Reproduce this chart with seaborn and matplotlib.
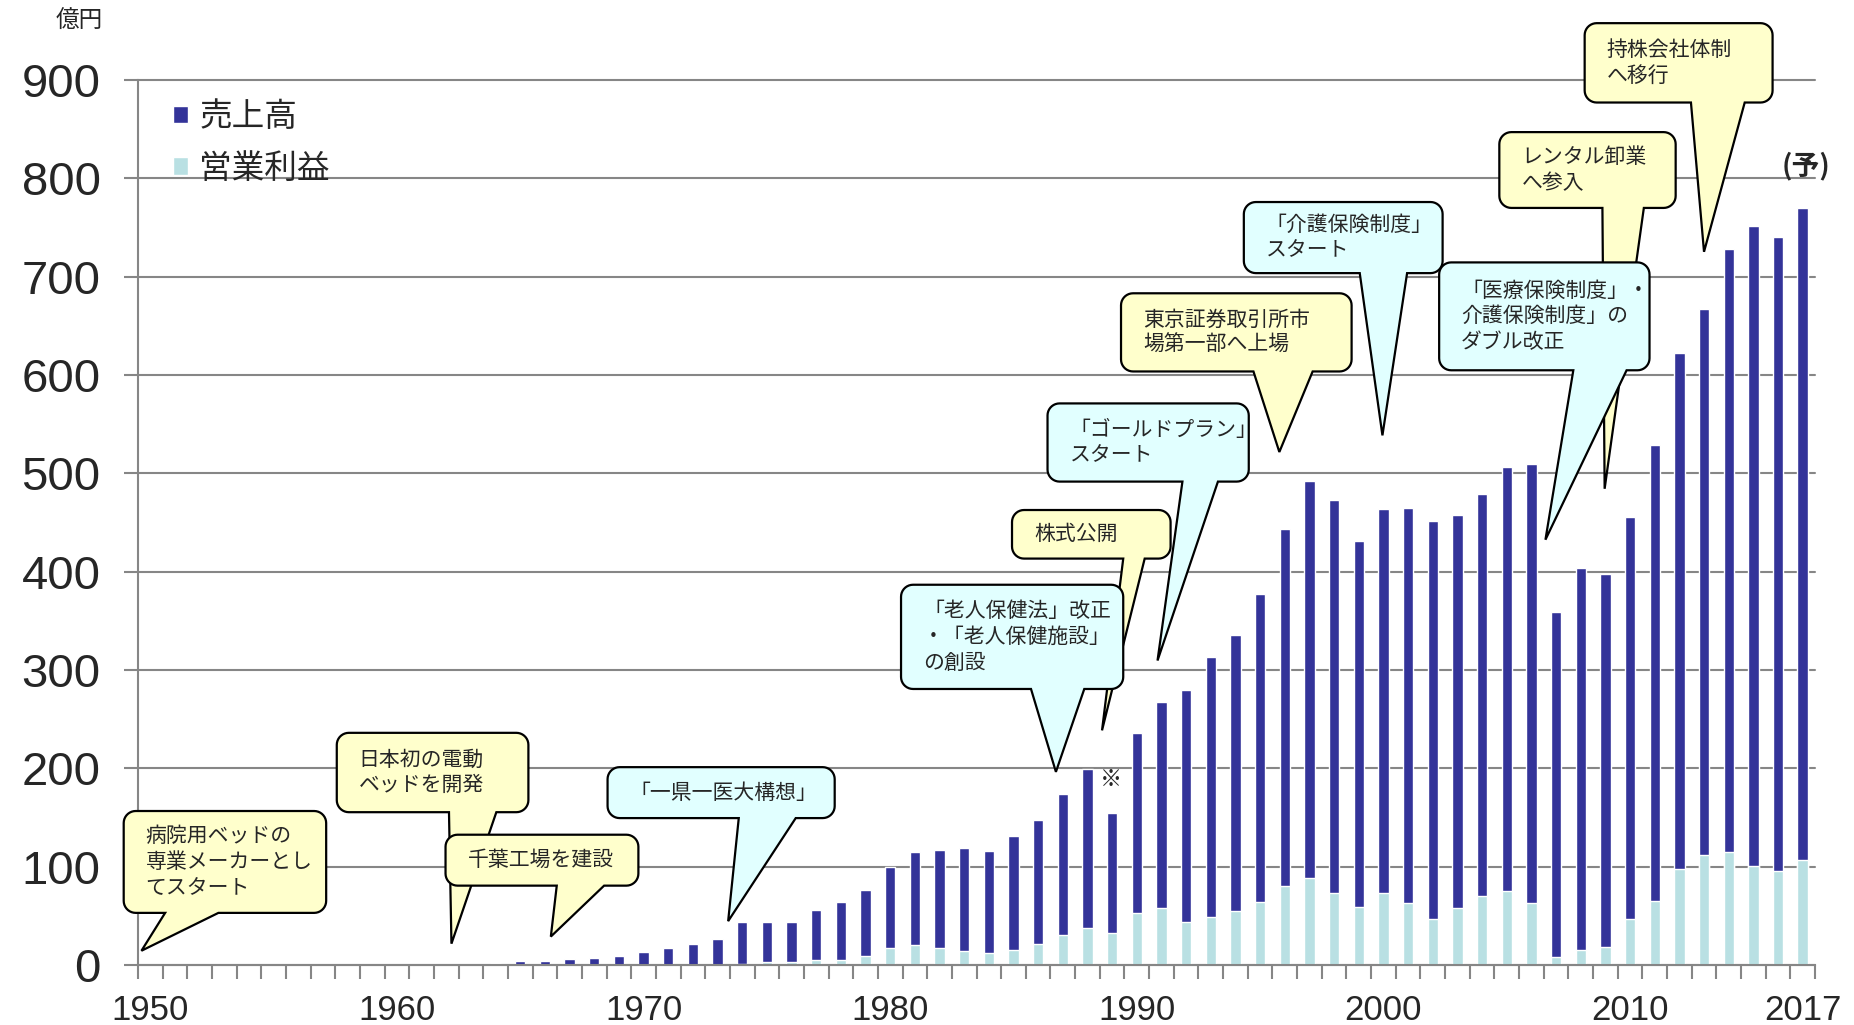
import numpy as np
import pandas as pd
import matplotlib
matplotlib.use('Agg')
import matplotlib.pyplot as plt
import seaborn as sns
from matplotlib.patches import Polygon

sns.set_style('white')
plt.rcParams['font.family'] = ['Liberation Sans', 'Noto Sans CJK JP']
JP = ['Noto Sans CJK JP', 'DejaVu Sans']

# data (億円)
years_all = [str(y) for y in range(1950, 2018)]
years = [str(y) for y in range(1962, 2018)]
sales = [1.4, 1.5, 2, 3.7, 4.4, 6, 7.5, 9.2, 13.6, 17, 21, 26.5,
         44, 44, 44, 56, 64, 76, 100, 115, 117, 119, 116, 131, 147, 174, 199, 155,
         236, 267, 280, 313, 336, 377, 443, 492, 473, 431, 464, 465, 452, 458, 479,
         506, 510, 359, 404, 398, 456, 529, 622, 667, 728, 752, 740, 770]
profit = [0, 0, 0, 0, 0, 0, 0, 0, 0, 0, 0, 0.5,
          1, 3, 3, 5, 5.5, 9.5, 17.5, 20.5, 17, 14, 12.5, 15, 21.5, 31, 37.5, 33,
          52.5, 58, 44, 49, 55, 64, 80.5, 88, 73, 59, 73, 62.7, 47.2, 58.2, 70.4,
          75.7, 62.7, 8, 15.5, 18, 46.8, 64.7, 97.7, 112, 114.8, 100.2, 95.3, 106.3]
label_years = ['1950', '1960', '1970', '1980', '1990', '2000', '2010', '2017']

df = pd.DataFrame({'year': years, 'sales': sales, 'profit': profit})

GRAY = '#868686'
YEL = '#FFFFCC'
CYA = '#E1FFFF'

fig = plt.figure(figsize=(18.54, 10.25), dpi=100)
ax = fig.add_axes([138 / 1854, 60 / 1025, 1677 / 1854, 885 / 1025])

sns.barplot(data=df, x='year', y='sales', order=years_all, color='#333399',
            saturation=1, width=0.42, errorbar=None, label='売上高', ax=ax)
sns.barplot(data=df, x='year', y='profit', order=years_all, color='#B9E0E3',
            saturation=1, width=0.42, errorbar=None, label='営業利益', ax=ax)

ax.set_xlim(-0.5, len(years_all) - 0.5)
ax.set_ylim(0, 900)
ax.set_xlabel('')
ax.set_ylabel('')
ax.set_axisbelow(True)

# y axis
ax.set_yticks(range(0, 1000, 100))
ax.yaxis.grid(True, color=GRAY, linewidth=1.5)
for gl in ax.get_ygridlines():
    gl.set_clip_on(False)
ax.tick_params(axis='y', length=10, width=1.5, color=GRAY, labelsize=34, pad=17, left=True)

# x axis: ticks between categories, labels at some years
ax.set_xticks([years_all.index(y) for y in label_years])
ax.set_xticklabels(label_years, family=['Liberation Sans Narrow', 'Liberation Sans'], fontsize=25)
ax.set_xticks(np.arange(-0.5, len(years_all), 1), minor=True)
ax.tick_params(axis='x', which='major', length=0, pad=21)
ax.tick_params(axis='x', which='minor', length=10, width=1.5, color=GRAY, bottom=True)

for s in ['top', 'right']:
    ax.spines[s].set_visible(False)
for s in ['left', 'bottom']:
    ax.spines[s].set_color(GRAY)
    ax.spines[s].set_linewidth(1.5)

ax.legend(prop={'family': JP, 'size': 23.5}, frameon=False, loc='upper left',
          bbox_to_anchor=(0.021, 0.976), handlelength=0.45, handleheight=0.45,
          handletextpad=0.35, labelspacing=0.6, borderpad=0, borderaxespad=0)

fig.text(79 / 1854, 1 - 21 / 1025, '億円', ha='center', va='center', fontsize=17, family=JP)

# speech bubbles
fig.canvas.draw()
p0 = ax.transData.transform((0, 0))
p1 = ax.transData.transform((1, 1))
sx, sy = p1[0] - p0[0], p1[1] - p0[1]


def bubble(text, x0, x1, y0, y1, bx0, bx1, tx, ty, fc, z):
    rx, ry = 12 / sx, 12 / sy

    def arc(cx, cy, a0, a1):
        t = np.linspace(a0, a1, 10)
        return list(zip(cx + rx * np.cos(t), cy + ry * np.sin(t)))

    pts = arc(x0 + rx, y0 + ry, np.pi, 1.5 * np.pi)
    pts += [(bx0, y0), (tx, ty), (bx1, y0)]
    pts += arc(x1 - rx, y0 + ry, 1.5 * np.pi, 2 * np.pi)
    pts += arc(x1 - rx, y1 - ry, 0, 0.5 * np.pi)
    pts += arc(x0 + rx, y1 - ry, 0.5 * np.pi, np.pi)
    ax.add_patch(Polygon(pts, closed=True, facecolor=fc, edgecolor='black',
                         linewidth=1.6, zorder=z, clip_on=False))
    ax.text(x0 + 22 / sx, (y0 + y1) / 2, text, ha='left', va='center', fontsize=15,
            family=JP, linespacing=1.22, zorder=z + 0.1, clip_on=False)


callouts = [
    ('病院用ベッドの\n専業メーカーとし\nてスタート', -1.08, 7.13, 53.0, 156.6, 0.60, 2.76, -0.36, 14.5, YEL),
    ('日本初の電動\nベッドを開発', 7.56, 15.33, 155.4, 236.1, 12.11, 14.03, 12.21, 21.7, YEL),
    ('千葉工場を建設', 11.97, 19.79, 80.7, 132.5, 16.48, 18.40, 16.24, 28.9, YEL),
    ('「一県一医大構想」', 18.54, 27.75, 149.4, 201.2, 23.86, 26.17, 23.43, 44.6, CYA),
    ('「ゴールドプラン」\nスタート', 36.38, 44.54, 491.6, 571.1, 41.85, 43.29, 40.84, 309.6, CYA),
    ('株式公開', 34.94, 41.37, 413.3, 462.7, 39.45, 40.32, 38.59, 238.6, YEL),
    ('「老人保健法」改正\n・「老人保健施設」\nの創設', 30.44, 39.45, 280.7, 386.7, 35.71, 37.87, 36.72, 196.4, CYA),
    ('東京証券取引所市\n場第一部へ上場', 39.36, 48.71, 603.6, 683.1, 44.73, 47.13, 45.78, 521.7, YEL),
    ('「介護保険制度」\nスタート', 44.34, 52.40, 703.6, 775.9, 49.04, 50.96, 49.96, 538.6, CYA),
    ('レンタル卸業\nへ参入', 54.70, 61.85, 769.9, 847.0, 58.88, 60.56, 58.97, 484.3, YEL),
    ('「医療保険制度」・\n介護保険制度」の\nダブル改正', 52.26, 60.79, 604.8, 714.5, 57.70, 59.86, 56.57, 432.5, CYA),
    ('持株会社体制\nへ移行', 58.16, 65.78, 877.1, 957.8, 62.47, 64.65, 63.0, 725.3, YEL),
]
for i, c in enumerate(callouts):
    bubble(*c, z=5 + i)

ax.text(38.97, 189, '※', ha='center', va='center', fontsize=16, family=JP, zorder=20)
ax.text(67.13, 813, '(予)', ha='center', va='center', fontsize=20, fontweight='bold',
        family=JP, zorder=20, clip_on=False)

fig.savefig('out.png', dpi=100)
